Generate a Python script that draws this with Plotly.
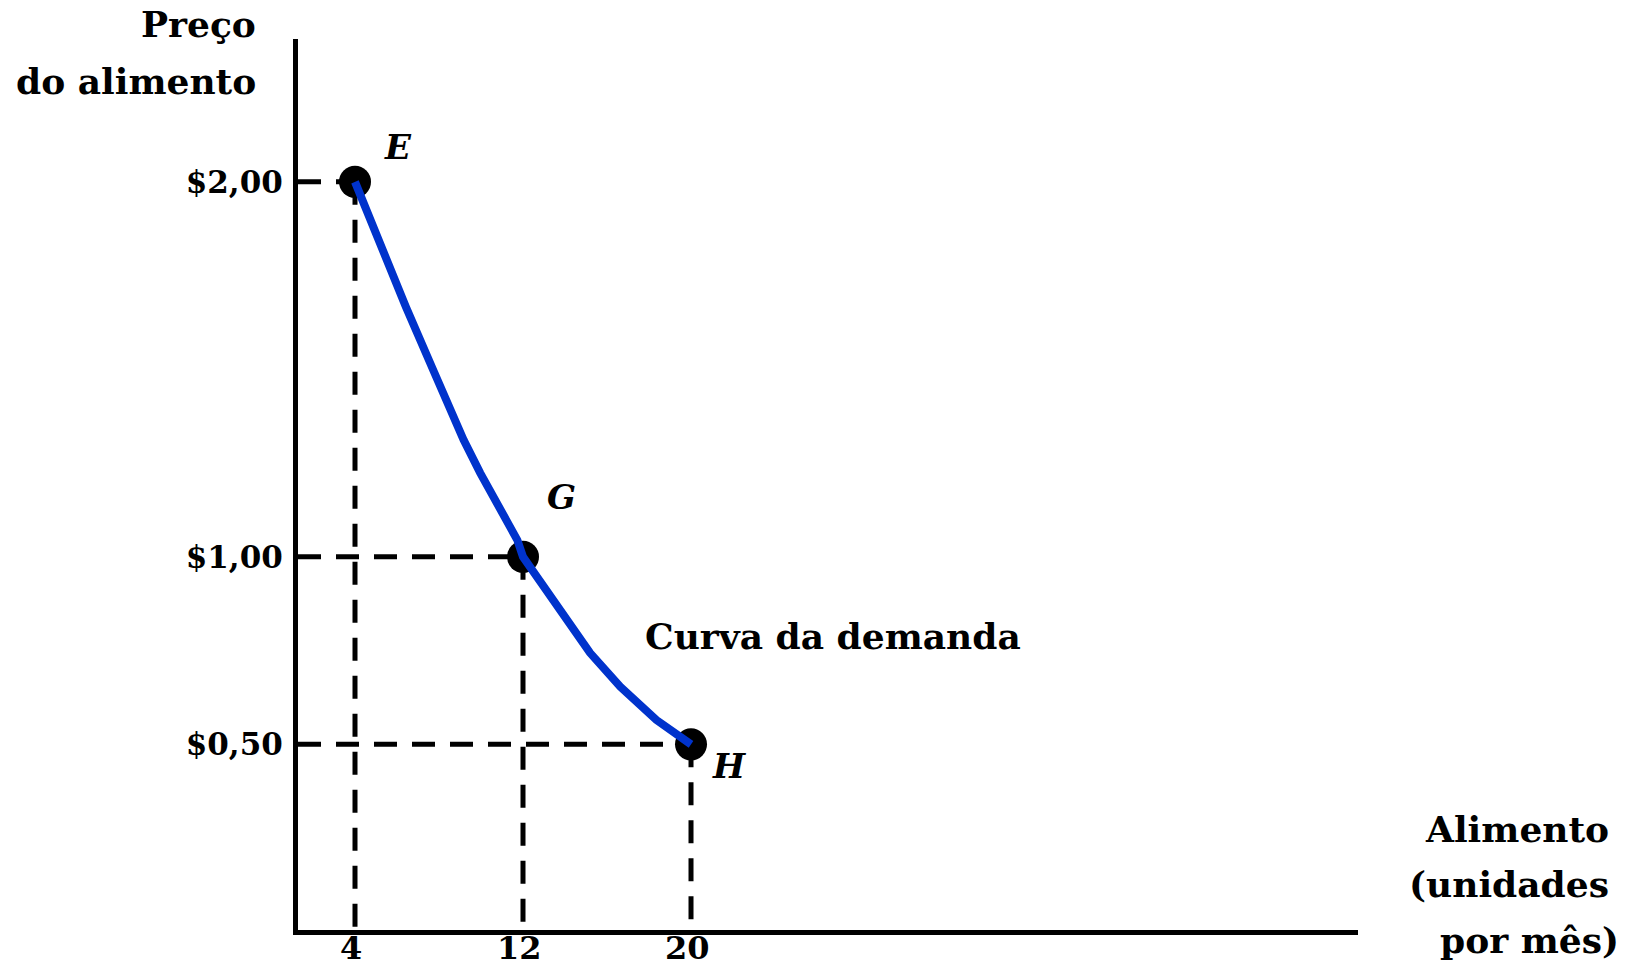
import plotly.graph_objects as go

# Pontos da curva de demanda (quantidade de alimento, preço)
quantidade = [4, 12, 20]
preco = [2.00, 1.00, 0.50]
rotulos_pontos = ["E", "G", "H"]

# Traçado da curva de demanda
curva_x = [4, 5.09, 6.42, 7.78, 9.17, 9.96, 10.82, 11.73, 12,
           12.97, 14.06, 15.19, 16.63, 18.35, 20]
curva_y = [2.00, 1.845, 1.667, 1.491, 1.312, 1.224, 1.134, 1.045, 1.00,
           0.921, 0.832, 0.744, 0.654, 0.565, 0.50]

# Marcas dos eixos
ticks_x = [4, 12, 20]
ticks_x_texto = ["4", "12", "20"]
ticks_y = [0.50, 1.00, 2.00]
ticks_y_texto = ["$0,50", "$1,00", "$2,00"]

X_MIN, X_MAX = 1.286, 51.76
Y_MIN, Y_MAX = 0.005, 2.381

FONTE = "DejaVu Serif"
AZUL = "#0033cc"
MARGEM_INF = 40

fig = go.Figure()

# Linhas tracejadas de referência: do eixo vertical até o ponto e do ponto até o eixo horizontal
gx, gy = [], []
for q, p in zip(quantidade, preco):
    gx += [X_MIN, q, None]
    gy += [p, p, None]
for q, p in zip(quantidade, preco):
    gx += [q, q, None]
    gy += [p, Y_MIN, None]
fig.add_trace(go.Scatter(
    x=gx, y=gy, mode="lines",
    line=dict(color="black", width=5, dash="23px,15px"),
    hoverinfo="skip", showlegend=False, cliponaxis=False,
))

# Pontos E, G, H
fig.add_trace(go.Scatter(
    x=quantidade, y=preco, mode="markers",
    marker=dict(color="black", size=32),
    showlegend=False,
))

# Curva de demanda
fig.add_trace(go.Scatter(
    x=curva_x, y=curva_y, mode="lines",
    line=dict(color=AZUL, width=8),
    showlegend=False,
))

anot = []
# Rótulos dos pontos
deslocamentos = [(43, 35), (38, 60), (38, -22)]
for q, p, r, (dx, dy) in zip(quantidade, preco, rotulos_pontos, deslocamentos):
    anot.append(dict(
        x=q, y=p, xref="x", yref="y", text=r, showarrow=False,
        xshift=dx, yshift=dy, xanchor="center", yanchor="middle",
        font=dict(family=FONTE, size=34, color="black", style="italic", weight="bold"),
    ))

# Rótulos do eixo horizontal, logo abaixo da linha do eixo
for q, t in zip(ticks_x, ticks_x_texto):
    anot.append(dict(
        x=q, y=0, xref="x", yref="paper", text=t, showarrow=False,
        xanchor="center", yanchor="bottom", xshift=-4, yshift=-(MARGEM_INF - 1),
        font=dict(family=FONTE, size=32, color="black", weight="bold"),
    ))

# Nome da curva
anot.append(dict(
    x=17.7, y=0.789, xref="x", yref="y", text="Curva da demanda", showarrow=False,
    xanchor="left", yanchor="middle",
    font=dict(family=FONTE, size=36, color="black", weight="bold"),
))

# Títulos dos eixos
titulos = [
    ("Preço", -0.0382, 1.0168),
    ("do alimento", -0.0382, 0.9529),
    ("Alimento", 1.2387, 0.1134),
    ("(unidades", 1.2387, 0.0516),
    ("por mês)", 1.2481, -0.0112),
]
for t, xp, yp in titulos:
    anot.append(dict(
        x=xp, y=yp, xref="paper", yref="paper", text=t, showarrow=False,
        xanchor="right", yanchor="middle",
        font=dict(family=FONTE, size=36, color="black", weight="bold"),
    ))

fig.update_layout(
    width=1635, height=970,
    margin=dict(l=298, r=277, t=39, b=MARGEM_INF, autoexpand=False),
    paper_bgcolor="white", plot_bgcolor="white",
    annotations=anot,
    xaxis=dict(
        range=[X_MIN, X_MAX], showgrid=False, zeroline=False, automargin=False,
        showline=True, linecolor="black", linewidth=5,
        tickvals=ticks_x, showticklabels=False, ticks="",
        fixedrange=True,
    ),
    yaxis=dict(
        range=[Y_MIN, Y_MAX], showgrid=False, zeroline=False, automargin=False,
        showline=True, linecolor="black", linewidth=5,
        tickvals=ticks_y, ticktext=ticks_y_texto, ticks="",
        tickfont=dict(family=FONTE, size=31, color="black", weight="bold"),
        ticklabelstandoff=4, fixedrange=True,
    ),
)

fig.write_html("out.html")
